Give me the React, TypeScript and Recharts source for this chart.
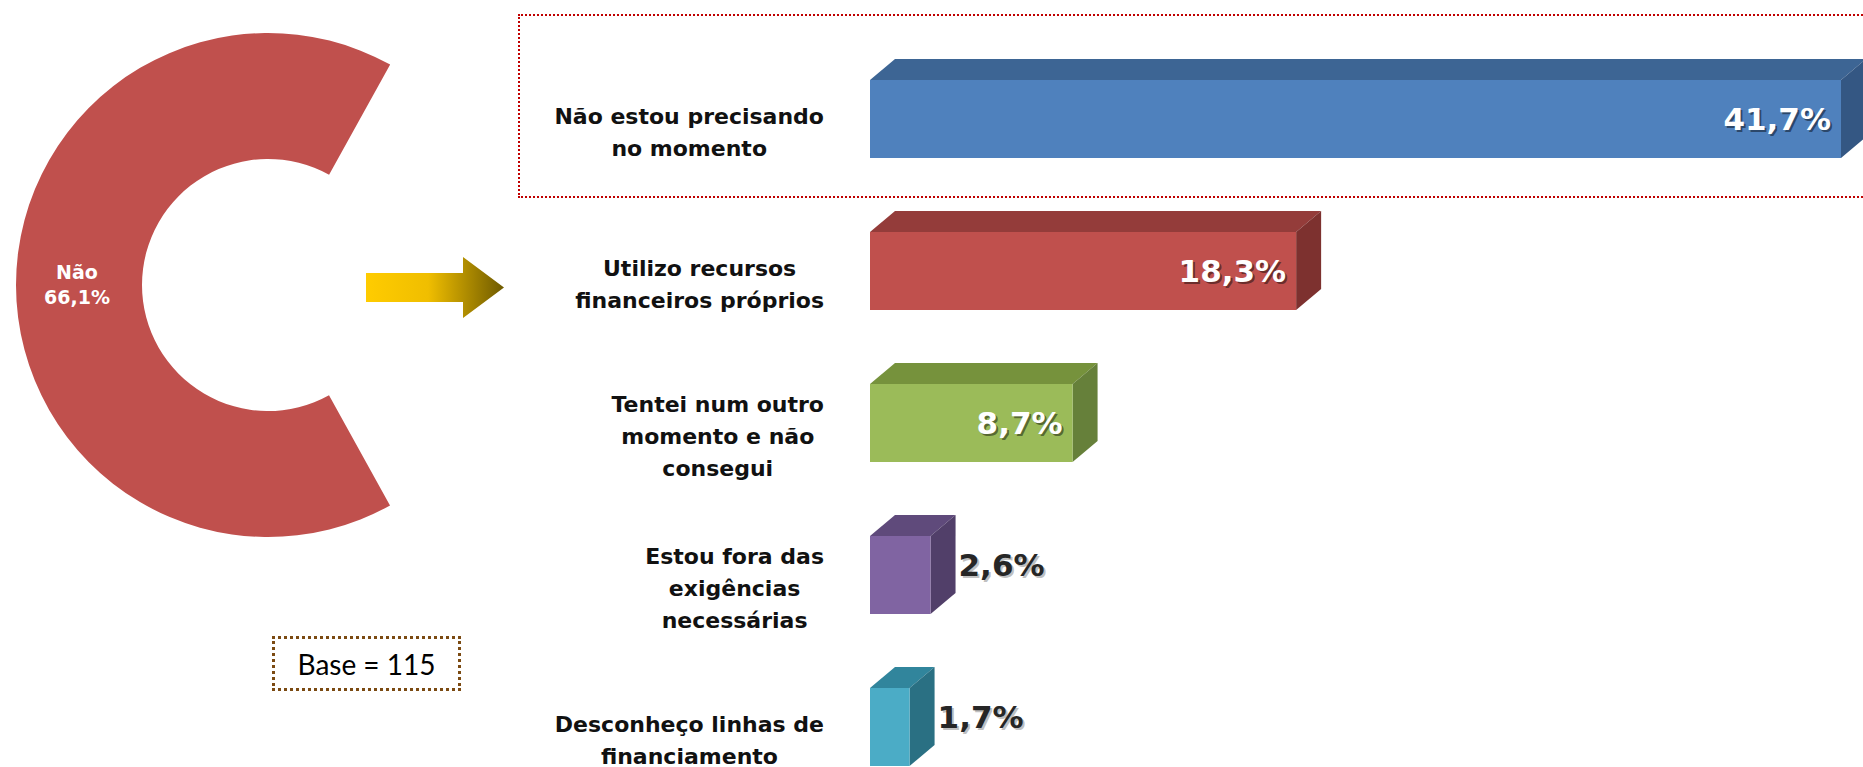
import React from "react";
import { BarChart, Bar, XAxis, YAxis, LabelList, PieChart, Pie, Cell } from "recharts";

// reasons for not seeking credit (share of "Não" answers)
const categories = [
  "Não estou precisando\nno momento",
  "Utilizo recursos\nfinanceiros próprios",
  "Tentei num outro\nmomento e não\nconsegui",
  "Estou fora das\nexigências\nnecessárias",
  "Desconheço linhas de\nfinanciamento",
];
const values = [41.7, 18.3, 8.7, 2.6, 1.7];
const frontColors = ["#4F81BD", "#C0504D", "#9BBB59", "#8064A2", "#4BACC6"];
const topColors = ["#3D6594", "#943C3A", "#76923C", "#5F4A7B", "#31859C"];
const sideColors = ["#345783", "#7D312F", "#66803A", "#513F69", "#2A7083"];

const pieNames = ["Não", "Sim"];
const pieValues = [66.1, 33.9];
const pieColors = ["#C0504D", "none"];

const barData = categories.map((name, i) => ({ name, value: values[i] }));
const pieData = pieNames.map((name, i) => ({ name, value: pieValues[i] }));

const DX = 25;
const DY = 21;
const LABEL_FONT = "bold 22px 'DejaVu Sans'";

let ctx: CanvasRenderingContext2D | null = null;
function textWidth(s: string) {
  if (!ctx) ctx = document.createElement("canvas").getContext("2d");
  if (!ctx) return s.length * 13;
  ctx.font = LABEL_FONT;
  return ctx.measureText(s).width;
}

function fmt(v: number) {
  return v.toFixed(1).replace(".", ",") + "%";
}

function CategoryTick(props: any) {
  const { x, y, payload } = props;
  const lines = String(payload.value).split("\n");
  const w = Math.max(...lines.map(textWidth));
  const cx = x - w / 2;
  const lh = 32;
  const top = y + 13 - ((lines.length - 1) * lh) / 2;
  return (
    <g>
      {lines.map((l, i) => (
        <text
          key={i}
          x={cx}
          y={top + i * lh}
          textAnchor="middle"
          dominantBaseline="central"
          fontFamily="DejaVu Sans"
          fontWeight="bold"
          fontSize={22}
          fill="#111"
        >
          {l}
        </text>
      ))}
    </g>
  );
}

function Bar3D(props: any) {
  const { x, y, width, height, payload } = props;
  const i = props.index ?? categories.indexOf(payload.name);
  return (
    <g>
      <polygon
        points={`${x},${y} ${x + DX},${y - DY} ${x + width + DX},${y - DY} ${x + width},${y}`}
        fill={topColors[i]}
      />
      <polygon
        points={`${x + width},${y} ${x + width + DX},${y - DY} ${x + width + DX},${y + height - DY} ${x + width},${y + height}`}
        fill={sideColors[i]}
      />
      <rect x={x} y={y} width={width} height={height} fill={frontColors[i]} />
    </g>
  );
}

function ValueLabel(props: any) {
  const vb = props.viewBox || props;
  const { x, y, width, height } = vb;
  const text = fmt(Number(props.value));
  const inside = width > 150;
  // outside labels sit beside the side face, which is shifted up by the depth
  const cy = inside ? y + height / 2 : y + height / 2 - DY / 2;
  const tx = inside ? x + width - 10 : x + width + DX + 3;
  const anchor = inside ? "end" : "start";
  return (
    <g fontFamily="DejaVu Sans" fontWeight="bold" fontSize={31}>
      <text x={tx + 2} y={cy + 2} textAnchor={anchor} dominantBaseline="central" fill={inside ? "rgba(0,0,0,0.45)" : "rgba(150,150,150,0.6)"}>
        {text}
      </text>
      <text x={tx} y={cy} textAnchor={anchor} dominantBaseline="central" fill={inside ? "#FFFFFF" : "#262626"}>
        {text}
      </text>
    </g>
  );
}

function PieLabel(props: any) {
  const { cx, cy, midAngle, innerRadius, outerRadius, index, name, value } = props;
  if (index !== 0) return null;
  const r = (innerRadius + outerRadius) / 2 + 2;
  const rad = Math.PI / 180;
  const x = cx + r * Math.cos(-midAngle * rad);
  const y = cy + r * Math.sin(-midAngle * rad);
  return (
    <g fontFamily="DejaVu Sans" fontWeight="bold" fontSize={19} fill="#FFFFFF">
      <text x={x} y={y - 13} textAnchor="middle" dominantBaseline="central">{name}</text>
      <text x={x} y={y + 12} textAnchor="middle" dominantBaseline="central">{fmt(Number(value))}</text>
    </g>
  );
}

export default function App() {
  return (
    <div
      style={{
        position: "absolute",
        left: 0,
        top: 0,
        width: 1863,
        height: 767,
        overflow: "hidden",
        background: "#fff",
        fontFamily: "'DejaVu Sans', sans-serif",
      }}
    >
      {/* highlighted first reason */}
      <div
        style={{
          position: "absolute",
          left: 518,
          top: 14,
          width: 1400,
          height: 180,
          border: "2px dotted #C00000",
        }}
      />

      <div style={{ position: "absolute", left: 0, top: 0 }}>
        <BarChart
          width={1863}
          height={830}
          data={barData}
          layout="vertical"
          margin={{ top: 43, right: 22, bottom: 27, left: 0 }}
          barCategoryGap={0}
        >
          <XAxis type="number" dataKey="value" domain={[0, "dataMax"]} hide />
          <YAxis
            type="category"
            dataKey="name"
            width={870}
            axisLine={false}
            tickLine={false}
            tickSize={0}
            tickMargin={46}
            tick={<CategoryTick />}
            interval={0}
          />
          <Bar dataKey="value" barSize={78} shape={<Bar3D />} isAnimationActive={false}>
            <LabelList dataKey="value" content={<ValueLabel />} />
          </Bar>
        </BarChart>
      </div>

      <div style={{ position: "absolute", left: 0, top: 0 }}>
        <PieChart width={540} height={570} margin={{ top: 0, right: 0, bottom: 0, left: 0 }}>
          <Pie
            data={pieData}
            dataKey="value"
            nameKey="name"
            cx={268}
            cy={285}
            innerRadius={126}
            outerRadius={252}
            startAngle={61}
            endAngle={421}
            stroke="none"
            label={<PieLabel />}
            labelLine={false}
            isAnimationActive={false}
          >
            {pieData.map((d, i) => (
              <Cell key={d.name} fill={pieColors[i]} />
            ))}
          </Pie>
        </PieChart>
      </div>

      <svg width={1863} height={767} style={{ position: "absolute", left: 0, top: 0, pointerEvents: "none" }}>
        <defs>
          <linearGradient id="arrowGrad" x1="0" y1="0" x2="1" y2="0">
            <stop offset="0%" stopColor="#FFCC00" />
            <stop offset="45%" stopColor="#F0BE00" />
            <stop offset="100%" stopColor="#6E5A00" />
          </linearGradient>
        </defs>
        <polygon
          points="366,273 463,273 463,257 504,287.5 463,318 463,302 366,302"
          fill="url(#arrowGrad)"
        />
      </svg>

      <div
        style={{
          position: "absolute",
          left: 272,
          top: 636,
          width: 183,
          height: 49,
          border: "3px dotted #7B4A12",
          display: "flex",
          alignItems: "center",
          justifyContent: "center",
          fontFamily: "Lato",
          fontSize: 28,
          color: "#000",
        }}
      >
        Base = 115
      </div>
    </div>
  );
}
